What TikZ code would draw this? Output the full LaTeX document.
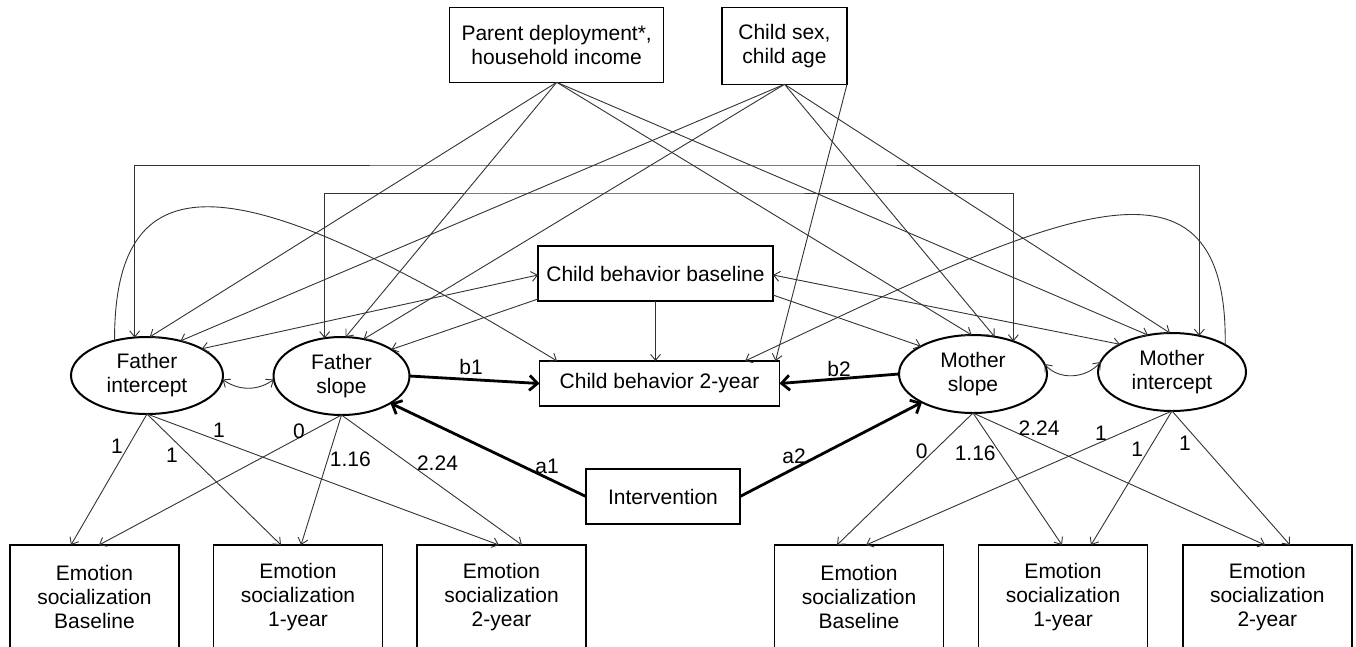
\documentclass[tikz,border=0pt]{standalone}
\usepackage{fontspec}
\setmainfont{Liberation Sans}
\usetikzlibrary{arrows.meta,shapes.geometric}
\begin{document}
\begin{tikzpicture}[x=1pt,y=-1pt,
  every node/.style={font=\fontsize{21}{24}\selectfont, inner sep=0pt, outer sep=0pt},
  box/.style={draw, line width=1.5pt, align=center},
  lat/.style={draw, ellipse, line width=2pt, align=center},
  link/.style={line width=0.9pt, draw=black!80, -{Straight Barb[length=6pt,width=10pt]}},
  dlink/.style={line width=0.9pt, draw=black!80, {Straight Barb[length=6pt,width=10pt]}-{Straight Barb[length=6pt,width=10pt]}},
  boldarrow/.style={line width=2.8pt, -{Straight Barb[length=8pt,width=15pt]}},
  coef/.style={}
]
\useasboundingbox (0,0) rectangle (1356,646);

% boxes
\node[box, minimum width=214pt, minimum height=75pt] (par) at (556.7,44.8) {Parent deployment*,\\household income};
\node[box, minimum width=125pt, minimum height=77pt] (cs) at (784.5,45.8) {Child sex,\\child age};
\node[box, minimum width=235pt, minimum height=55pt] (cb1) at (655.5,273.5) {Child behavior baseline};
\node[box, minimum width=240pt, minimum height=45pt] (cb2) at (659.5,383.5) {Child behavior 2-year};
\node[box, minimum width=154pt, minimum height=55pt] (int) at (663,496.5) {Intervention};

% latent variables
\node[lat, minimum width=152pt, minimum height=77pt] (fi) at (147,375.5) {Father\\intercept};
\node[lat, minimum width=136pt, minimum height=78pt] (fs) at (341.5,376) {Father\\slope};
\node[lat, minimum width=148pt, minimum height=78pt] (ms) at (973,374) {Mother\\slope};
\node[lat, minimum width=148pt, minimum height=78pt] (mi) at (1172,372) {Mother\\intercept};

% indicators
\node[box, minimum width=169pt, minimum height=104pt] (e1) at (94.5,597) {Emotion\\socialization\\Baseline};
\node[box, minimum width=169pt, minimum height=104pt] (e2) at (298,597) {Emotion\\socialization\\1-year};
\node[box, minimum width=169pt, minimum height=104pt] (e3) at (501.5,597) {Emotion\\socialization\\2-year};
\node[box, minimum width=169pt, minimum height=104pt] (e4) at (859,597) {Emotion\\socialization\\Baseline};
\node[box, minimum width=169pt, minimum height=104pt] (e5) at (1063,597) {Emotion\\socialization\\1-year};
\node[box, minimum width=169pt, minimum height=104pt] (e6) at (1267.25,597) {Emotion\\socialization\\2-year};

% bracket covariances
\coordinate (otop) at (600,165);
\coordinate (itop) at (600,193);
\draw[dlink] (fi.108.9) |- (otop) -| (mi.53.4);
\draw[dlink] (fs.114.9) |- (itop) -| (ms.39.6);

% covariates
\draw[link] (par.south) -- (fi.86.6);
\draw[link] (par.south) -- (fs.84.9);
\draw[link] (par.south) -- (ms.92);
\draw[link] (par.south) -- (mi.123);
\draw[link] (cs.south) -- (fi.46.4);
\draw[link] (cs.south) -- (fs.59.5);
\draw[link] (cs.south) -- (ms.60.7);
\draw[link] (cs.south) -- (mi.93);
\draw[link] (cs.south east) -- ([xshift=-4pt]cb2.north east);

% child behavior baseline
\draw[dlink] ([yshift=-1.5pt]cb1.west) -- (fi.26);
\draw[link] ([yshift=2pt]cb1.south west) -- (fs.28);
\draw[dlink] ([yshift=-1.5pt]cb1.east) -- (mi.152.6);
\draw[link] ([yshift=6pt]cb1.south east) -- (ms.152.6);
\draw[link] (cb1.south) -- (cb1.south |- cb2.north);

% long curves
\draw[link] (fi.133.6) .. controls (114,140) and (260,180) .. ([xshift=17.5pt]cb2.north west);
\draw[link] (mi.27.2) .. controls (1228,125) and (1045,220) .. ([xshift=-34.5pt]cb2.north east);

% intercept-slope covariances
\draw[dlink] (fi.-3) to[out=-35,in=-145] (fs.183);
\draw[dlink] (ms.8.5) to[out=-50,in=-130] (mi.172.9);

% structural paths
\draw[boldarrow] (fs.east) -- (cb2.west);
\draw[boldarrow] (ms.west) -- (cb2.east);
\draw[boldarrow] (int.west) -- (fs.-29.4);
\draw[boldarrow] (int.east) -- (ms.209.9);

% loadings
\draw[link] (fi.south) -- ([xshift=-23.5pt]e1.north);
\draw[link] (fi.south) -- ([xshift=-17pt]e2.north);
\draw[link] (fi.south) -- ([xshift=-2.5pt]e3.north);
\draw[link] (fs.south) -- ([xshift=4.5pt]e1.north);
\draw[link] (fs.south) -- ([xshift=3pt]e2.north);
\draw[link] (fs.south) -- ([xshift=20.5pt]e3.north);
\draw[link] (ms.south) -- ([xshift=-22pt]e4.north);
\draw[link] (ms.south) -- ([xshift=-1pt]e5.north);
\draw[link] (ms.south) -- ([xshift=-2.25pt]e6.north);
\draw[link] (mi.south) -- ([xshift=7pt]e4.north);
\draw[link] (mi.south) -- ([xshift=28pt]e5.north);
\draw[link] (mi.south) -- ([xshift=22.75pt]e6.north);

% labels
\node[coef] (lb1) at (471,366.7) {b1};
\node[coef] (lb2) at (839,369.3) {b2};
\node[coef] (la1) at (547,466.7) {a1};
\node[coef] (la2) at (794,456.7) {a2};
\node[coef] (f1) at (117,446.7) {1};
\node[coef] (f2) at (172,455) {1};
\node[coef] (f3) at (219,430) {1};
\node[coef] (f4) at (299,431.7) {0};
\node[coef] (f5) at (350.4,459.3) {1.16};
\node[coef] (f6) at (437.5,462.7) {2.24};
\node[coef] (m4) at (921.6,451.7) {0};
\node[coef] (m5) at (975.2,453.3) {1.16};
\node[coef] (m6) at (1039,428.3) {2.24};
\node[coef] (m1) at (1101,433.3) {1};
\node[coef] (m2) at (1137.2,449.3) {1};
\node[coef] (m3) at (1185,443.3) {1};
\end{tikzpicture}
\end{document}
